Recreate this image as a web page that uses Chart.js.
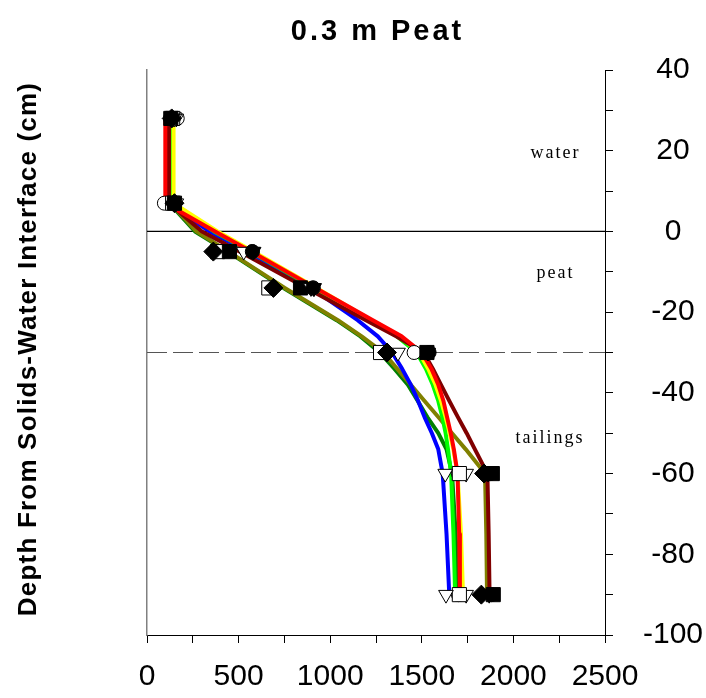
<!DOCTYPE html>
<html>
<head>
<meta charset="utf-8">
<script src="https://cdn.jsdelivr.net/npm/chart.js@4/dist/chart.umd.min.js"></script>
<style>
  html, body { margin: 0; padding: 0; background: #ffffff; }
  #wrap { width: 706px; height: 698px; }
</style>
</head>
<body>
<div id="wrap"><canvas id="c" width="706" height="698"></canvas></div>
<script>
// Depth (cm) of each point on the modelled profiles
const profileDepths = [28, 7, 0, -5, -14, -22, -26, -30, -34, -38, -42, -46, -50, -54, -60, -75, -90];
const redProfile    = [100, 100, 372, 568, 920, 1233, 1390, 1500, 1552, 1590, 1618, 1638, 1658, 1675, 1695, 1704, 1708];
const maroonProfile = [120, 120, 300, 505, 870, 1195, 1360, 1510, 1560, 1605, 1650, 1697, 1745, 1790, 1858, 1865, 1870];
const yellowProfile = [145, 145, 385, 580, 925, 1225, 1380, 1485, 1535, 1575, 1605, 1630, 1652, 1672, 1695, 1714, 1725];
const limeProfile   = [135, 135, 365, 565, 910, 1210, 1365, 1472, 1522, 1560, 1590, 1612, 1630, 1643, 1660, 1673, 1682];
const blueProfile   = [115, 118, 340, 550, 895, 1150, 1260, 1338, 1392, 1440, 1480, 1515, 1555, 1590, 1614, 1635, 1650];
const greenProfile  = [122, 122, 262, 440, 745, 1035, 1165, 1270, 1350, 1424, 1478, 1530, 1590, 1635, 1665, 1685, 1697];
const oliveProfile  = [128, 128, 270, 445, 752, 1042, 1172, 1290, 1365, 1440, 1515, 1590, 1665, 1740, 1845, 1852, 1856];

// Measured values at the sampling depths
const sampleDepths   = [28, 7, -5, -14, -30, -60, -90];
const filledDiamond  = [135, 150, 362, 690, 1310, 1840, 1825];
const filledCircle   = [128, 145, 575, 905, 1540, 1875, 1880];
const filledTriDown  = [140, 150, 582, 912, 1532, 1862, 1868];
const openTriDown    = [150, 160, 528, 895, 1370, 1628, 1632];
const filledSquare   = [130, 150, 450, 838, 1528, 1885, 1890];
const openSquare     = [140, 140, 385, 665, 1275, 1705, 1705];
const openTriDownB   = [160, 150, 575, 910, 1535, 1742, 1742];
const openCircle     = [165, 95, 575, 908, 1458, 1700, 1700];

// Layer boundaries and zone captions
const surfaceDepth = 0;
const peatBaseDepth = -30;
const zoneNames  = ['water', 'peat', 'tailings'];
const zoneDepths = [19.4, -10.4, -51.2];
const zoneX      = [2230, 2230, 2200];

const xRange = [0, 2500];
const yRange = [-100, 40];

const pts = (xs, ys) => xs.map((v, i) => ({ x: v, y: ys[i] }));

function profile(values, color) {
  return {
    data: pts(values, profileDepths),
    borderColor: color,
    backgroundColor: color,
    borderWidth: 4,
    borderJoinStyle: 'round',
    pointRadius: 0,
    tension: 0,
    fill: false,
    order: 2
  };
}

function samples(values, style, filled, radius, rotation) {
  return {
    data: pts(values, sampleDepths),
    showLine: false,
    pointStyle: style,
    pointRadius: radius,
    pointRotation: rotation || 0,
    pointBackgroundColor: filled ? '#000000' : '#ffffff',
    pointBorderColor: '#000000',
    pointBorderWidth: 1,
    order: 0
  };
}

function boundary(depth, color, width, dash) {
  return {
    data: [{ x: xRange[0], y: depth }, { x: xRange[1], y: depth }],
    borderColor: color,
    borderWidth: width,
    borderDash: dash,
    pointRadius: 0,
    fill: false,
    order: 3
  };
}

const labelsPlugin = {
  id: 'labels',
  afterDraw(chart) {
    const ctx = chart.ctx;
    const xs = chart.scales.x, ys = chart.scales.y;
    ctx.save();
    ctx.fillStyle = '#000000';
    // chart title
    ctx.font = 'bold 29px "Liberation Sans", Arial, sans-serif';
    ctx.letterSpacing = '3px';
    ctx.textAlign = 'center';
    ctx.textBaseline = 'middle';
    ctx.fillText('0.3 m Peat', (chart.chartArea.left + chart.chartArea.right) / 2 + 1.5, 32);
    // left axis title
    ctx.save();
    ctx.translate(29, 349);
    ctx.rotate(-Math.PI / 2);
    ctx.font = 'bold 26px "Liberation Sans", Arial, sans-serif';
    ctx.letterSpacing = '1.2px';
    ctx.fillText('Depth From Solids-Water Interface (cm)', 0, 0);
    ctx.restore();
    // zone captions
    ctx.font = '18px "Liberation Serif", "Times New Roman", serif';
    ctx.letterSpacing = '2px';
    zoneNames.forEach((name, i) => {
      ctx.fillText(name, xs.getPixelForValue(zoneX[i]), ys.getPixelForValue(zoneDepths[i]));
    });
    ctx.restore();
  }
};

new Chart(document.getElementById('c'), {
  type: 'line',
  data: {
    datasets: [
      samples(filledDiamond, 'rectRot', true, 9.5),
      samples(filledCircle, 'circle', true, 7),
      samples(filledTriDown, 'triangle', true, 8.5, 180),
      samples(openTriDown, 'triangle', false, 8.5, 180),
      samples(filledSquare, 'rect', true, 10),
      samples(openSquare, 'rect', false, 10),
      samples(openTriDownB, 'triangle', false, 8.5, 180),
      samples(openCircle, 'circle', false, 7),
      profile(redProfile, '#ff0000'),
      profile(maroonProfile, '#800000'),
      profile(yellowProfile, '#ffff00'),
      profile(limeProfile, '#00ff00'),
      profile(blueProfile, '#0000ff'),
      profile(oliveProfile, '#808000'),
      profile(greenProfile, '#008000'),
      boundary(surfaceDepth, '#000000', 1.2, []),
      boundary(peatBaseDepth, '#555555', 1.2, [20, 6])
    ]
  },
  options: {
    responsive: false,
    animation: false,
    layout: { padding: { top: 70, left: 0, right: 0, bottom: 0 } },
    plugins: { legend: { display: false }, tooltip: { enabled: false }, title: { display: false } },
    scales: {
      x: {
        type: 'linear',
        position: 'bottom',
        min: xRange[0], max: xRange[1],
        afterFit(s) { s.height = 63; },
        border: { display: true, color: '#000000', width: 1 },
        grid: { display: true, drawOnChartArea: false, drawTicks: true, tickLength: 8, tickColor: '#000000', tickWidth: 1 },
        ticks: {
          stepSize: 250, autoSkip: false, maxRotation: 0, padding: 16,
          color: '#000000',
          font: { family: '"Liberation Sans", Arial, sans-serif', size: 30 },
          callback: v => (v % 500 === 0 ? String(v) : '')
        }
      },
      yLeft: {
        type: 'linear',
        position: 'left',
        min: yRange[0], max: yRange[1],
        afterFit(s) { s.width = 147; },
        border: { display: true, color: '#808080', width: 1.5 },
        grid: { display: false, drawTicks: false },
        ticks: { display: false }
      },
      y: {
        type: 'linear',
        position: 'right',
        min: yRange[0], max: yRange[1],
        afterFit(s) { s.width = 101; },
        border: { display: true, color: '#000000', width: 1 },
        grid: { display: true, drawOnChartArea: false, drawTicks: true, tickLength: 8, tickColor: '#000000', tickWidth: 1 },
        ticks: {
          stepSize: 10, autoSkip: false, padding: 30, crossAlign: 'center',
          color: '#000000',
          font: { family: '"Liberation Sans", Arial, sans-serif', size: 30 },
          callback: v => (v % 20 === 0 ? String(v) : '')
        }
      }
    }
  },
  plugins: [labelsPlugin]
});
</script>
</body>
</html>
